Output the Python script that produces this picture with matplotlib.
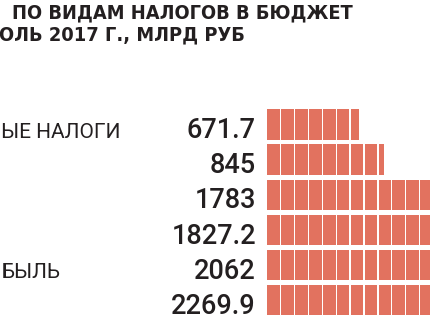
import matplotlib
matplotlib.use("Agg")
import matplotlib.pyplot as plt
from matplotlib.patches import Rectangle

values = [671.7, 845, 1783, 1827.2, 2062, 2269.9]
value_labels = ["671.7", "845", "1783", "1827.2", "2062", "2269.9"]
row_labels = ["ЫЕ НАЛОГИ", "", "", "", "БЫЛЬ", ""]
title_lines = ["ПО ВИДАМ НАЛОГОВ В БЮДЖЕТ", "ОЛЬ 2017 Г., МЛРД РУБ"]
block_unit = 100

W, H = 430, 320
fig = plt.figure(figsize=(W / 100, H / 100), dpi=100)
fig.patch.set_facecolor("white")

x0_px = 267.3
px_per_unit = 13.9 / block_unit
row_pitch = 35.1
row0_center = 124.5
ax = fig.add_axes([x0_px / W, 0, 1 - x0_px / W, 1])
ax.set_xlim(0, (W - x0_px) / px_per_unit)
ax.set_ylim((H - row0_center) / row_pitch, -row0_center / row_pitch)
ax.axis("off")

bar_color = "#E2725F"
text_color = "#231F20"
gap = 9
bar_h = 30.4 / row_pitch

for i, v in enumerate(values):
    full = int(v // block_unit)
    rem = v - full * block_unit
    for b in range(full):
        ax.add_patch(Rectangle((b * block_unit, i - bar_h / 2), block_unit - gap, bar_h,
                               facecolor=bar_color, edgecolor="none"))
    if rem > gap:
        ax.add_patch(Rectangle((full * block_unit, i - bar_h / 2), rem - gap, bar_h,
                               facecolor=bar_color, edgecolor="none"))

val_x = (256 - x0_px) / px_per_unit
lab_x = (1 - x0_px) / px_per_unit
for i, (vl, rl) in enumerate(zip(value_labels, row_labels)):
    ax.text(val_x, i + 13.8 / row_pitch, vl, ha="right", va="baseline",
            fontsize=19.5, fontweight="medium",
            family="Roboto", color=text_color, clip_on=False)
    if rl:
        ax.text(lab_x, i + 13.3 / row_pitch, rl, ha="left", va="baseline",
                fontsize=15, family="Roboto", color=text_color, clip_on=False)

fig.text(12 / W, 1 - 18.3 / H, title_lines[0], ha="left", va="baseline",
         fontsize=14.3, fontweight="bold", fontstretch="condensed",
         family="DejaVu Sans", color=text_color)
fig.text(-1 / W, 1 - 40.5 / H, title_lines[1], ha="left", va="baseline",
         fontsize=14.3, fontweight="bold", fontstretch="condensed",
         family="DejaVu Sans", color=text_color)

fig.savefig("out.png", dpi=100, facecolor="white")
